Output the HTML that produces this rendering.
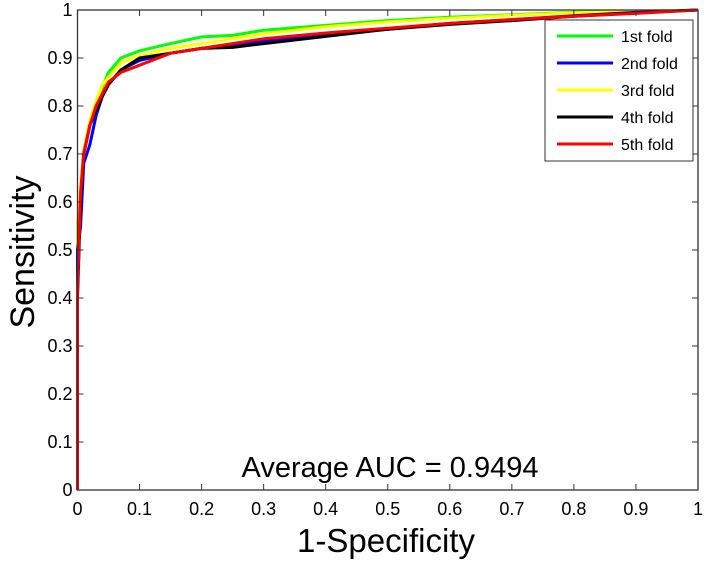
<!DOCTYPE html>
<html><head><meta charset="utf-8"><style>
body{margin:0;background:#fff}
svg{display:block;font-family:"Liberation Sans",Arial,sans-serif}
</style></head><body>
<svg id="chart" width="710" height="566"></svg>
<script>
const xs=[0,0,0.005,0.01,0.02,0.03,0.04,0.05,0.07,0.1,0.15,0.2,0.25,0.3,0.4,0.5,0.6,0.7,0.8,0.9,1];
const fold1=[0,0.55,0.62,0.7,0.76,0.8,0.84,0.87,0.9,0.915,0.93,0.944,0.947,0.958,0.968,0.978,0.985,0.99,0.995,0.997,1];
const fold2=[0,0.5,0.55,0.68,0.72,0.78,0.82,0.845,0.875,0.895,0.91,0.92,0.925,0.935,0.948,0.96,0.972,0.98,0.988,0.995,1];
const fold3=[0,0.55,0.63,0.71,0.77,0.81,0.845,0.86,0.89,0.905,0.92,0.93,0.94,0.95,0.965,0.975,0.983,0.989,0.994,0.997,1];
const fold4=[0,0.4,0.6,0.7,0.76,0.79,0.82,0.845,0.875,0.9,0.91,0.92,0.922,0.93,0.945,0.96,0.97,0.978,0.987,0.994,1];
const fold5=[0,0.42,0.62,0.7,0.76,0.8,0.825,0.85,0.87,0.885,0.91,0.92,0.93,0.94,0.952,0.962,0.972,0.98,0.987,0.993,1];
const foldNames=["1st fold","2nd fold","3rd fold","4th fold","5th fold"];
const foldColors=["#00ff00","#0000ff","#ffff00","#000000","#ff0000"];
const ticks=[0,0.1,0.2,0.3,0.4,0.5,0.6,0.7,0.8,0.9,1];
const tickLabels=["0","0.1","0.2","0.3","0.4","0.5","0.6","0.7","0.8","0.9","1"];
const L=77.5,R=698,T=10,B=490;
const X=v=>L+v*(R-L), Y=v=>B-v*(B-T);
const svg=document.getElementById('chart');
const NS='http://www.w3.org/2000/svg';
function mk(tag,attrs,parent){const e=document.createElementNS(NS,tag);for(const k in attrs)e.setAttribute(k,attrs[k]);(parent||svg).appendChild(e);return e;}
const series=[fold1,fold2,fold3,fold4,fold5];
[0,2,1,3,4].forEach(i=>{
  const d=xs.map((x,j)=>(j?'L':'M')+X(x).toFixed(1)+' '+Y(series[i][j]).toFixed(1)).join(' ');
  const p=mk('path',{d:d,fill:'none',stroke:foldColors[i],'stroke-width':3,'stroke-linejoin':'round'});
  
  
});
const frame=mk('rect',{x:L,y:T,width:R-L,height:B-T,fill:'none',stroke:'#333','stroke-width':1.3});


ticks.forEach((t,i)=>{
  mk('line',{x1:X(t),x2:X(t),y1:B,y2:B-6,stroke:'#333'});
  mk('line',{x1:X(t),x2:X(t),y1:T,y2:T+6,stroke:'#333'});
  mk('line',{x1:L,x2:L+6,y1:Y(t),y2:Y(t),stroke:'#333'});
  mk('line',{x1:R,x2:R-6,y1:Y(t),y2:Y(t),stroke:'#333'});
  const xl=mk('text',{x:X(t),y:B+25,'font-size':18,'text-anchor':'middle'});
  xl.textContent=tickLabels[i];
  
  
  const yl=mk('text',{x:L-5,y:Y(t)+6,'font-size':18,'text-anchor':'end'});
  yl.textContent=tickLabels[i];
  
  
});
const lg=mk('g',{});


mk('rect',{x:545,y:20,width:148,height:141,fill:'#fff',stroke:'#333','stroke-width':1},lg);
foldNames.forEach((n,i)=>{
  const y=36+i*27;
  const ln=mk('line',{x1:557,x2:613,y1:y,y2:y,stroke:foldColors[i],'stroke-width':3},lg);
  
  
  const tx=mk('text',{x:621,y:y+6,'font-size':16},lg);
  tx.textContent=n;
  
  
});
const auc=mk('text',{x:390,y:477,'font-size':29,'text-anchor':'middle'});
auc.textContent='Average AUC = 0.9494';


const xt=mk('text',{x:386,y:552,'font-size':33,'text-anchor':'middle'});
xt.textContent='1-Specificity';


const yt=mk('text',{x:0,y:0,'font-size':34,'text-anchor':'middle',transform:'translate(34,252) rotate(-90)'});
yt.textContent='Sensitivity';


</script>
</body></html>
